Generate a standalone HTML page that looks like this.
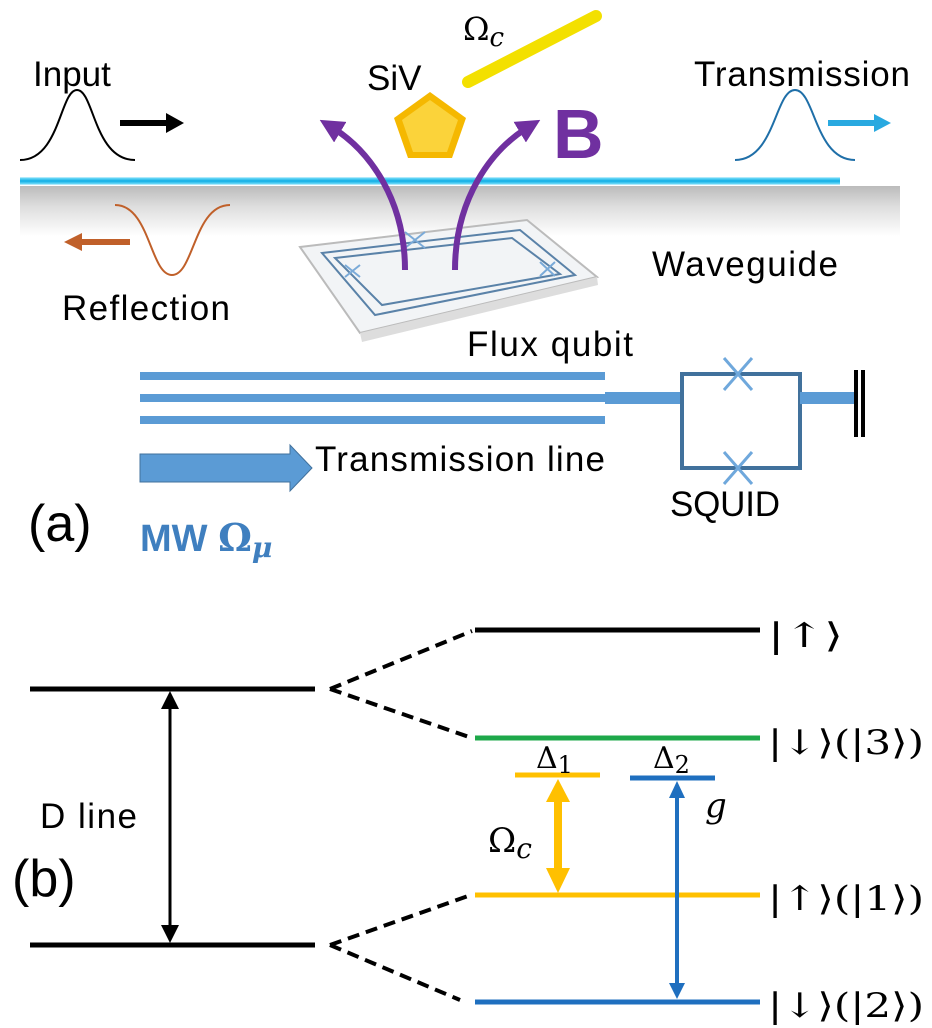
<!DOCTYPE html>
<html><head><meta charset="utf-8"><style>
body{margin:0;background:#fff}
svg{display:block}
text{font-family:"Liberation Sans","DejaVu Sans",sans-serif}
.m{font-family:"DejaVu Serif","Liberation Serif",serif}
</style></head><body>
<svg width="932" height="1028" viewBox="0 0 932 1028" xmlns="http://www.w3.org/2000/svg">
<defs>
<linearGradient id="sh" x1="0" y1="0" x2="0" y2="1">
<stop offset="0" stop-color="#bbb"/><stop offset="0.4" stop-color="#ddd"/><stop offset="1" stop-color="#fff"/></linearGradient>
<marker id="ak" markerWidth="6" markerHeight="6" refX="3" refY="3" orient="auto-start-reverse" markerUnits="strokeWidth"><path d="M0,0L6,3L0,6z" fill="#000"/></marker>
<marker id="ap" markerWidth="4" markerHeight="4" refX="2" refY="2" orient="auto" markerUnits="strokeWidth"><path d="M0,0L4,2L0,4z" fill="#7030a0"/></marker>
</defs>
<rect x="20" y="186" width="880" height="50" fill="url(#sh)"/>
<line x1="20" y1="181" x2="840" y2="181" stroke="#5fd3f5" stroke-width="7"/>
<line x1="20" y1="181" x2="840" y2="181" stroke="#1fb5e8" stroke-width="3"/>
<text x="33" y="86" font-size="35">Input</text>
<path d="M20,160 C60,160 60,90 77,90 C94,90 94,160 135,160" fill="none" stroke="#000" stroke-width="2"/>
<line x1="120" y1="123" x2="168" y2="123" stroke="#000" stroke-width="6"/>
<path d="M166,113L184,123L166,133z" fill="#000"/>
<text x="694" y="86" font-size="35" textLength="216">Transmission</text>
<path d="M735,160 C775,160 775,90 795,90 C815,90 815,160 855,160" fill="none" stroke="#1f6fa8" stroke-width="2"/>
<line x1="828" y1="123" x2="876" y2="123" stroke="#29a9e0" stroke-width="6"/>
<path d="M874,114L891,123L874,132z" fill="#29a9e0"/>
<path d="M115,205 C150,205 150,275 172,275 C194,275 194,205 230,205" fill="none" stroke="#c0602a" stroke-width="2"/>
<line x1="80" y1="242" x2="130" y2="242" stroke="#c0602a" stroke-width="6"/>
<path d="M82,233L64,242L82,251z" fill="#c0602a"/>
<text x="62" y="320" font-size="35" textLength="168">Reflection</text>
<text x="652" y="276" font-size="35" textLength="186">Waveguide</text>
<text x="467" y="356" font-size="35" textLength="166">Flux qubit</text>
<path d="M300,247 L527,220 L597,277 L360,333 Z" fill="#f2f4f6" stroke="#bbb" stroke-width="2"/>
<path d="M360,333 L597,277 L598,285 L362,342 Z" fill="#ddd"/>
<path d="M322,253 L520,230 L575,275 L375,315 Z" fill="none" stroke="#5a82a8" stroke-width="2"/>
<path d="M335,258 L512,238 L560,274 L382,305 Z" fill="none" stroke="#5a82a8" stroke-width="2"/>
<g stroke="#7aaad8" stroke-width="2"><path d="M405,232l20,16M425,232l-20,16M540,262l15,14M555,262l-15,14M345,265l15,12M360,265l-15,12"/></g>
<text x="367" y="90" font-size="35">SiV</text>
<text x="463" y="40" font-size="32" class="m">Ω<tspan font-style="italic" font-size="26" dy="6">c</tspan></text>
<line x1="468" y1="82" x2="596" y2="16" stroke="#f3e000" stroke-width="12" stroke-linecap="round"/>
<polygon points="430,92 466,118 452,158 408,158 394,118" fill="#f5b800"/>
<polygon points="430,100 458,120 447,152 413,152 402,120" fill="#fbd33a"/>
<path d="M405,270 C405,200 370,150 330,126" fill="none" stroke="#7030a0" stroke-width="6" marker-end="url(#ap)"/>
<path d="M455,270 C455,200 490,150 530,126" fill="none" stroke="#7030a0" stroke-width="6" marker-end="url(#ap)"/>
<text x="553" y="158" font-size="70" font-weight="bold" fill="#7030a0">B</text>
<g stroke="#5b9bd5" stroke-width="8"><line x1="140" y1="376" x2="605" y2="376"/><line x1="140" y1="398" x2="605" y2="398"/><line x1="140" y1="420" x2="605" y2="420"/></g>
<line x1="605" y1="398" x2="682" y2="398" stroke="#5b9bd5" stroke-width="12"/>
<rect x="682" y="374" width="118" height="94" fill="none" stroke="#41719c" stroke-width="4"/>
<line x1="800" y1="398" x2="857" y2="398" stroke="#5b9bd5" stroke-width="12"/>
<line x1="856" y1="370" x2="856" y2="437" stroke="#000" stroke-width="4"/>
<line x1="863" y1="370" x2="863" y2="437" stroke="#000" stroke-width="4"/>
<g stroke="#6fa8dc" stroke-width="3"><path d="M724,358l28,32M752,358l-28,32M724,452l28,32M752,452l-28,32"/></g>
<path d="M140,454 H290 V445 L312,468 L290,491 V482 H140 Z" fill="#5b9bd5" stroke="#41719c" stroke-width="1"/>
<text x="315" y="471" font-size="35" textLength="290">Transmission line</text>
<text x="670" y="516" font-size="35" textLength="110">SQUID</text>
<text x="28" y="541" font-size="52">(a)</text>
<text x="140" y="551" font-size="38" fill="#3f7fbf" font-weight="bold">MW <tspan class="m">Ω</tspan><tspan class="m" font-style="italic" font-size="28" dy="6">μ</tspan></text>
<g stroke-width="5">
<line x1="30" y1="689" x2="315" y2="689" stroke="#000"/>
<line x1="30" y1="945" x2="315" y2="945" stroke="#000"/>
<line x1="475" y1="630" x2="760" y2="630" stroke="#000"/>
<line x1="475" y1="738" x2="760" y2="738" stroke="#1ea84a"/>
<line x1="475" y1="895" x2="760" y2="895" stroke="#ffc000"/>
<line x1="475" y1="1002" x2="760" y2="1002" stroke="#1f6fbf"/>
<line x1="515" y1="775" x2="600" y2="775" stroke="#ffc000"/>
<line x1="630" y1="778" x2="715" y2="778" stroke="#1f6fbf"/>
</g>
<g stroke="#000" stroke-width="4" stroke-dasharray="12,7">
<line x1="330" y1="689" x2="472" y2="631"/><line x1="330" y1="689" x2="472" y2="738"/>
<line x1="330" y1="945" x2="468" y2="896"/><line x1="330" y1="945" x2="460" y2="1000"/>
</g>
<line x1="170" y1="700" x2="170" y2="934" stroke="#000" stroke-width="3" marker-start="url(#ak)" marker-end="url(#ak)"/>
<line x1="558" y1="800" x2="558" y2="870" stroke="#ffc000" stroke-width="8"/>
<path d="M546,802L558,779L570,802z" fill="#ffc000"/>
<path d="M546,868L558,893L570,868z" fill="#ffc000"/>
<line x1="677" y1="795" x2="677" y2="985" stroke="#1f6fbf" stroke-width="4"/>
<path d="M669,798L677,781L685,798z" fill="#1f6fbf"/>
<path d="M669,983L677,999L685,983z" fill="#1f6fbf"/>
<text x="536" y="768" font-size="30" class="m">Δ<tspan font-size="24" dy="5">1</tspan></text>
<text x="653" y="768" font-size="30" class="m">Δ<tspan font-size="24" dy="5">2</tspan></text>
<text x="488" y="852" font-size="34" class="m">Ω<tspan font-style="italic" font-size="28" dy="6">c</tspan></text>
<text x="705" y="817" font-size="34" class="m" font-style="italic">g</text>
<text x="40" y="828" font-size="35" textLength="97">D line</text>
<text x="12" y="896" font-size="52">(b)</text>
<g font-size="34" class="m">
<text x="768" y="647" class="m" textLength="75" lengthAdjust="spacingAndGlyphs">|↑⟩</text>
<text x="768" y="754" class="m" textLength="156" lengthAdjust="spacingAndGlyphs">|↓⟩(|3⟩)</text>
<text x="768" y="910" class="m" textLength="156" lengthAdjust="spacingAndGlyphs">|↑⟩(|1⟩)</text>
<text x="768" y="1017" class="m" textLength="156" lengthAdjust="spacingAndGlyphs">|↓⟩(|2⟩)</text>
</g>
</svg>
</body></html>
